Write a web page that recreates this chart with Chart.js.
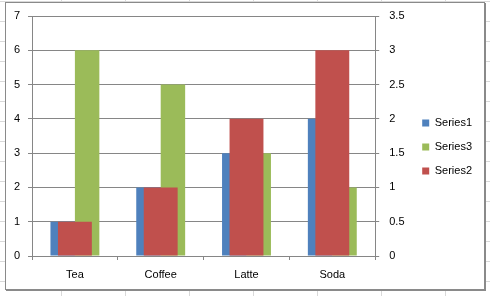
<!DOCTYPE html>
<html>
<head>
<meta charset="utf-8">
<script src="https://cdn.jsdelivr.net/npm/chart.js@4/dist/chart.umd.min.js"></script>
<style>
  html, body { margin: 0; padding: 0; }
  body {
    width: 490px; height: 296px; overflow: hidden; position: relative;
    background-color: #fff;
    background-image:
      linear-gradient(to right, #d9d9d9 1px, transparent 1px),
      linear-gradient(to bottom, #d9d9d9 1px, transparent 1px);
    background-size: 64px 20px;
    background-position: 61px 1px;
  }
  #box {
    position: absolute; left: 5px; top: 2px; width: 480px; height: 288px;
    box-sizing: border-box; border: 1px solid #8a8a8a; background: #fff;
    box-shadow: 1px 1px 0 #8a8a8a;
  }
  #chart { display: block; }
</style>
</head>
<body>
<div id="box"><canvas id="chart" width="478" height="286"></canvas></div>
<script>
// Chart data
const categories = ['Tea', 'Coffee', 'Latte', 'Soda'];
const series1 = [1, 2, 3, 4];
const series3 = [6, 5, 3, 2];
const series2 = [0.5, 1, 2, 3];   // secondary axis
const leftTicks = [0, 1, 2, 3, 4, 5, 6, 7];
const rightTicks = [0, 0.5, 1, 1.5, 2, 2.5, 3, 3.5];

const lineColor = '#868686';
const font = { family: 'Liberation Sans', size: 11 };

Chart.defaults.font.family = font.family;
Chart.defaults.font.size = font.size;
Chart.defaults.color = '#000';

// value axes: fixed width, and a fixed gap above the plot
// (the legend keeps the small outer padding so it stays centred like Excel's)
function fixAxis(width) {
    return s => {
        s.width = width;
        s.paddingTop = 13;
        s.paddingBottom = 0;
    };
}

new Chart(document.getElementById('chart'), {
    type: 'bar',
    data: {
        labels: categories,
        datasets: [{
            label: 'Series1',
            data: series1,
            backgroundColor: '#4F81BD',
            yAxisID: 'y',
            categoryPercentage: 0.57, barPercentage: 1,
            order: 1
        }, {
            label: 'Series3',
            data: series3,
            backgroundColor: '#9BBB59',
            yAxisID: 'y',
            categoryPercentage: 0.57, barPercentage: 1,
            order: 1
        }, {
            // drawn centred over the other two, on the right-hand axis
            label: 'Series2',
            data: series2,
            backgroundColor: '#C0504D',
            yAxisID: 'y2',
            grouped: false,
            categoryPercentage: 0.395, barPercentage: 1,
            order: 0
        }]
    },
    options: {
        responsive: false,
        animation: false,
        layout: { padding: { top: 3, left: 0, right: 2, bottom: 1 } },
        plugins: {
            tooltip: { enabled: false },
            legend: {
                position: 'right',
                labels: {
                    boxWidth: 7, boxHeight: 7, padding: 13,
                    font: font,
                    sort: (a, b) => a.datasetIndex - b.datasetIndex
                }
            }
        },
        scales: {
            x: {
                offset: true,
                grid: { offset: true, drawOnChartArea: false, tickLength: 4, color: lineColor },
                border: { color: lineColor },
                ticks: { padding: 8, font: font },
                afterFit: s => { s.height = 32; }
            },
            y: {
                position: 'left',
                min: 0, max: 7,
                afterBuildTicks: s => { s.ticks = leftTicks.map(v => ({ value: v })); },
                grid: { color: lineColor, tickLength: 4 },
                border: { color: lineColor },
                ticks: { padding: 8, font: font, callback: v => String(v) },
                afterFit: fixAxis(26)
            },
            y2: {
                position: 'right',
                min: 0, max: 3.5,
                afterBuildTicks: s => { s.ticks = rightTicks.map(v => ({ value: v })); },
                grid: { drawOnChartArea: false, color: lineColor, tickLength: 4 },
                border: { color: lineColor },
                ticks: { padding: 10, font: font, callback: v => String(v) },
                afterFit: fixAxis(34)
            }
        }
    }
});
</script>
</body>
</html>
